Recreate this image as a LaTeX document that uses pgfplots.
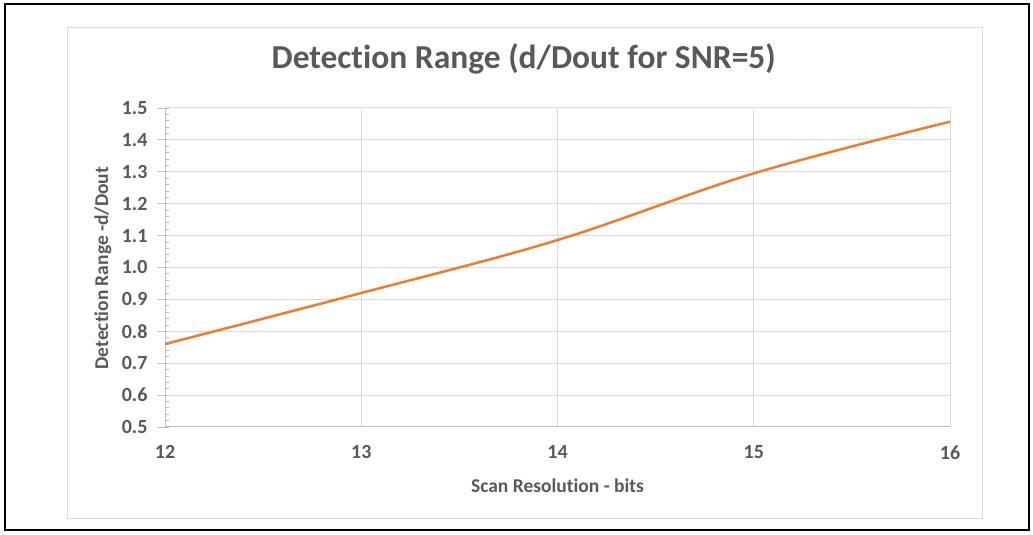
\documentclass[border=0pt]{standalone}
\usepackage{fontspec}
\setmainfont{Carlito}[Ligatures={NoCommon,TeX}]
\usepackage{pgfplots}
\pgfplotsset{compat=1.18}
\definecolor{txt}{HTML}{595959}
\definecolor{gridc}{HTML}{D9D9D9}
\definecolor{axc}{HTML}{BFBFBF}
\definecolor{orangeline}{HTML}{ED7D31}
\begin{document}
\begin{tikzpicture}[x=1pt,y=1pt]
\useasboundingbox (0,0) rectangle (1033,535);
\fill[white] (0,0) rectangle (1033,535);
\draw[black, line width=2pt] (5,5) rectangle (1029,531);
\draw[gridc, line width=1pt] (67,16) rectangle (982,507);
\begin{axis}[
  scale only axis,
  width=785pt, height=319pt,
  at={(165pt,108pt)}, anchor=south west,
  xmin=12, xmax=16, ymin=0.5, ymax=1.5,
  xtick={12,13,14,15,16},
  ytick={0.5,0.6,...,1.51},
  minor y tick num=4,
  axis x line*=bottom, axis y line*=left,
  axis line style={axc, line width=1pt, -},
  grid=major,
  major grid style={gridc, line width=1pt},
  tick align=inside,
  major tick length=4pt, minor tick length=4pt,
  tick style={axc, line width=0.8pt},
  x tick style={draw=none},
  extra y ticks={0.5,0.6,...,1.51},
  extra y tick labels={},
  extra y tick style={tick align=outside, major tick length=7pt, grid=none},
  /pgf/number format/assume math mode=true,
  ticklabel style={font=\bfseries\fontsize{20}{20}\selectfont, text=txt},
  yticklabel style={/pgf/number format/fixed, /pgf/number format/fixed zerofill, /pgf/number format/precision=1, xshift=-14pt},
  xticklabel style={yshift=-15pt},
  title={Detection Range (d/Dout for SNR=5)},
  title style={at={(axis description cs:0.457,1.135)}, anchor=center, font=\bfseries\fontsize{33.5}{36}\selectfont, text=txt},
  xlabel={Scan Resolution - bits},
  xlabel style={at={(axis description cs:0.5,-0.185)}, anchor=center, font=\bfseries\fontsize{19.5}{20}\selectfont, text=txt},
  ylabel={Detection Range -d/Dout},
  ylabel style={at={(axis description cs:-0.079,0.498)}, anchor=center, font=\bfseries\fontsize{19.5}{20}\selectfont, text=txt},
  clip=false,
]
\addplot[orangeline, line width=2.5pt, smooth, tension=0.6] coordinates {
(12,0.76) (13,0.92) (14,1.086) (15,1.295) (16,1.457)
};
\end{axis}
\end{tikzpicture}
\end{document}
